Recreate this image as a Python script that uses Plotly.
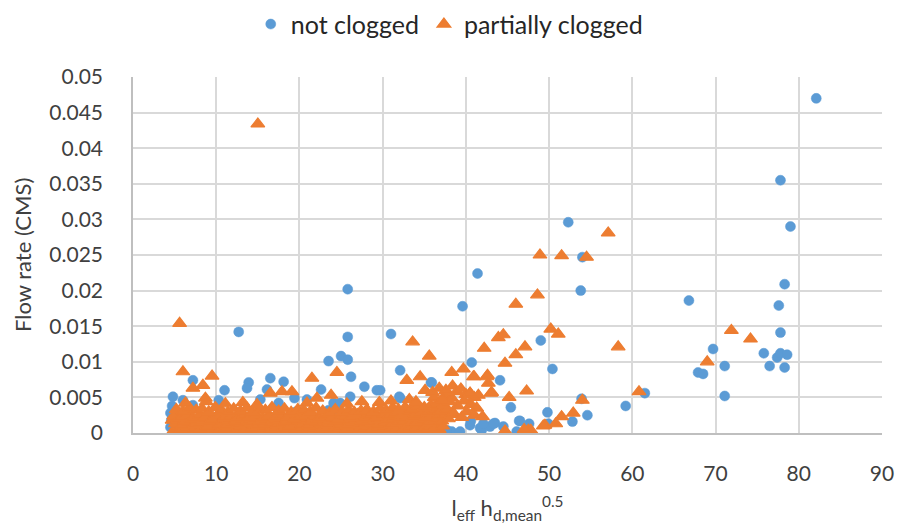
import plotly.graph_objects as go

# ---------------- data ----------------
# not clogged (blue circles)
nc_x = [82.1, 77.8, 79.0, 78.3, 77.6, 77.8, 75.8, 77.4, 77.8, 78.6, 76.5, 78.3,
        66.8, 69.7, 71.1, 67.9, 68.5, 71.1, 61.5, 59.2,
        52.3, 54.0, 41.4, 53.8, 39.6, 31.0, 49.0, 50.4, 32.1, 40.7, 35.8, 44.1,
        53.9, 54.6, 52.8, 49.8, 45.4, 46.4, 47.6, 49.9,
        40.6, 41.7, 42.9, 43.5, 44.5, 38.3, 39.3, 46.1, 40.5, 41.9, 42.1, 43.3, 46.5, 37.7,
        12.7, 25.8, 25.8, 23.5, 25.0, 25.8, 26.2, 7.2, 4.8, 6.0, 11.0, 10.3, 13.9, 13.7,
        16.5, 18.1, 16.1, 22.6, 20.9, 27.8, 29.3, 26.1, 15.3, 19.4, 32.0, 29.7,
        7.2, 17.5, 19.6, 24.1, 24.9, 32.1, 35.9, 23.5, 24.5,
        4.5, 4.6, 4.5, 4.7, 6.0, 10.0, 15.0, 20.0, 25.0, 30.0, 35.0]
nc_y = [0.0470, 0.0355, 0.0290, 0.0209, 0.0179, 0.0141, 0.0112, 0.0106, 0.0112, 0.0110, 0.0094, 0.0092,
        0.0186, 0.0118, 0.0094, 0.0085, 0.0083, 0.0052, 0.0056, 0.0038,
        0.0296, 0.0247, 0.0224, 0.0200, 0.0178, 0.0139, 0.0130, 0.0090, 0.0088, 0.0099, 0.0071, 0.0074,
        0.0048, 0.0025, 0.0016, 0.0029, 0.0036, 0.0017, 0.0013, 0.0013,
        0.0017, 0.0007, 0.0009, 0.0014, 0.0009, 0.0002, 0.0002, 0.0002, 0.0011, 0.0004, 0.0013, 0.0013, 0.0017, 0.0004,
        0.0142, 0.0202, 0.0135, 0.0101, 0.0108, 0.0103, 0.0079, 0.0074, 0.0051, 0.0046, 0.0060, 0.0046, 0.0071, 0.0063,
        0.0077, 0.0072, 0.0061, 0.0061, 0.0047, 0.0065, 0.0060, 0.0051, 0.0047, 0.0049, 0.0051, 0.0060,
        0.0039, 0.0042, 0.0030, 0.0042, 0.0042, 0.0049, 0.0071, 0.0032, 0.0032,
        0.0008, 0.0018, 0.0028, 0.0038, 0.0010, 0.0020, 0.0015, 0.0010, 0.0020, 0.0015, 0.0010]

# partially clogged (orange triangles) - scattered points
pc_x_outer = [15.0, 5.6, 6.0, 9.5, 7.2, 8.4, 8.7, 21.5, 24.5, 22.1, 23.8, 16.5, 17.9, 19.1, 27.5,
              33.6, 35.6, 32.9, 34.5, 38.3, 39.7, 40.9, 42.6, 42.2, 43.9, 44.5, 46.0, 48.6,
              48.9, 51.5, 54.5, 57.1, 50.2, 51.1, 47.1, 46.0, 44.7,
              41.0, 42.5, 42.7, 43.1, 41.5, 40.5, 47.3, 43.0, 45.2,
              54.0, 52.9, 51.5, 50.8, 49.5, 49.3, 47.5, 47.8, 44.7, 47.0, 42.0,
              58.3, 60.8, 69.0, 71.9, 74.2]
pc_y_outer = [0.0434, 0.0154, 0.0086, 0.0080, 0.0063, 0.0067, 0.0049, 0.0077, 0.0085, 0.0049, 0.0053,
              0.0056, 0.0058, 0.0058, 0.0044,
              0.0128, 0.0108, 0.0074, 0.0079, 0.0085, 0.0090, 0.0079, 0.0081, 0.0119, 0.0134, 0.0138, 0.0181, 0.0194,
              0.0250, 0.0249, 0.0247, 0.0281, 0.0146, 0.0139, 0.0121, 0.0110, 0.0098,
              0.0079, 0.0079, 0.0070, 0.0057, 0.0053, 0.0056, 0.0059, 0.0056, 0.0050,
              0.0046, 0.0028, 0.0023, 0.0013, 0.0011, 0.0010, 0.0004, 0.0004, 0.0003, 0.0005, 0.0023,
              0.0121, 0.0058, 0.0100, 0.0144, 0.0132]

# partially clogged - dense low band
pc_x_row1 = [4.8, 5.5, 6.3, 7.0, 7.8, 8.5, 9.3, 10.1, 10.8, 11.6, 12.3, 13.1, 13.9, 14.6, 15.4, 16.2,
             16.9, 17.7, 18.4, 19.2, 20.0, 20.7, 21.5, 22.3, 23.0, 23.8, 24.5, 25.3, 26.1, 26.8,
             27.6, 28.4, 29.1, 29.9, 30.6, 31.4, 32.2, 32.9, 33.7, 34.5, 35.2, 36.0, 36.8]
pc_y_row1 = [0.0002, 0.0004, 0.0001, 0.0003, 0.0005, 0.0002, 0.0001, 0.0004, 0.0003, 0.0000, 0.0002,
             0.0004, 0.0001, 0.0003, 0.0002, 0.0005, 0.0001, 0.0003, 0.0002, 0.0004, 0.0001, 0.0003,
             0.0002, 0.0000, 0.0004, 0.0002, 0.0003, 0.0001, 0.0005, 0.0002, 0.0003, 0.0001, 0.0004,
             0.0002, 0.0003, 0.0001, 0.0004, 0.0002, 0.0005, 0.0003, 0.0004, 0.0002, 0.0005]
pc_x_row1b = [5.2, 5.9, 6.6, 7.4, 8.1, 8.9, 9.7, 10.5, 11.2, 12.0, 12.7, 13.5, 14.3, 15.0, 15.8, 16.6,
              17.3, 18.1, 18.8, 19.6, 20.4, 21.1, 21.9, 22.7, 23.4, 24.2, 24.9, 25.7, 26.5, 27.2,
              28.0, 28.8, 29.5, 30.3, 31.0, 31.8, 32.6, 33.3, 34.1, 34.9, 35.6, 36.4, 37.2]
pc_y_row1b = [0.0008, 0.0006, 0.0009, 0.0007, 0.0006, 0.0009, 0.0008, 0.0006, 0.0007, 0.0009, 0.0008,
              0.0006, 0.0007, 0.0009, 0.0008, 0.0006, 0.0009, 0.0007, 0.0008, 0.0006, 0.0009, 0.0007,
              0.0008, 0.0006, 0.0009, 0.0007, 0.0008, 0.0006, 0.0009, 0.0007, 0.0008, 0.0006, 0.0009,
              0.0008, 0.0007, 0.0009, 0.0006, 0.0008, 0.0009, 0.0007, 0.0008, 0.0009, 0.0010]
pc_x_row2 = [5.1, 5.9, 6.7, 7.4, 8.2, 8.9, 9.7, 10.4, 11.2, 12.0, 12.7, 13.5, 14.2, 15.0, 15.8, 16.5,
             17.3, 18.1, 18.8, 19.6, 20.3, 21.1, 21.9, 22.6, 23.4, 24.2, 24.9, 25.7, 26.4, 27.2,
             28.0, 28.7, 29.5, 30.3, 31.0, 31.8, 32.5, 33.3, 34.1, 34.8, 35.6, 36.4, 37.1, 37.9]
pc_y_row2 = [0.0013, 0.0011, 0.0016, 0.0012, 0.0014, 0.0010, 0.0015, 0.0013, 0.0011, 0.0016, 0.0012,
             0.0014, 0.0015, 0.0011, 0.0013, 0.0016, 0.0012, 0.0014, 0.0010, 0.0015, 0.0013, 0.0011,
             0.0016, 0.0014, 0.0012, 0.0015, 0.0013, 0.0011, 0.0016, 0.0012, 0.0014, 0.0015, 0.0013,
             0.0016, 0.0012, 0.0015, 0.0017, 0.0014, 0.0016, 0.0018, 0.0015, 0.0019, 0.0017, 0.0020]
pc_x_row2b = [4.7, 5.4, 6.2, 7.0, 7.7, 8.5, 9.3, 10.0, 10.8, 11.5, 12.3, 13.1, 13.8, 14.6, 15.3, 16.1,
              16.9, 17.6, 18.4, 19.2, 19.9, 20.7, 21.4, 22.2, 23.0, 23.7, 24.5, 25.3, 26.0, 26.8,
              27.5, 28.3, 29.1, 29.8, 30.6, 31.4, 32.1, 32.9, 33.6, 34.4, 35.2, 35.9, 36.7, 37.5, 38.2]
pc_y_row2b = [0.0018, 0.0019, 0.0017, 0.0020, 0.0018, 0.0019, 0.0017, 0.0020, 0.0018, 0.0019, 0.0017,
              0.0020, 0.0018, 0.0019, 0.0017, 0.0020, 0.0018, 0.0019, 0.0017, 0.0020, 0.0018, 0.0019,
              0.0017, 0.0020, 0.0018, 0.0019, 0.0017, 0.0020, 0.0018, 0.0019, 0.0017, 0.0020, 0.0019,
              0.0021, 0.0020, 0.0022, 0.0021, 0.0023, 0.0022, 0.0024, 0.0023, 0.0026, 0.0025, 0.0027, 0.0026]
pc_x_row3 = [4.9, 5.7, 6.5, 7.2, 8.0, 8.7, 9.5, 10.2, 11.0, 11.8, 12.5, 13.3, 14.0, 14.8, 15.6, 16.3,
             17.1, 17.9, 18.6, 19.4, 20.1, 20.9, 21.7, 22.4, 23.2, 24.0, 24.7, 25.5, 26.2, 27.0,
             27.8, 28.5, 29.3, 30.1, 30.8, 31.6, 32.3, 33.1, 33.9, 34.6, 35.4, 36.2, 36.9, 37.7]
pc_y_row3 = [0.0024, 0.0022, 0.0026, 0.0021, 0.0025, 0.0023, 0.0020, 0.0026, 0.0022, 0.0024, 0.0021,
             0.0025, 0.0023, 0.0026, 0.0021, 0.0024, 0.0022, 0.0025, 0.0023, 0.0020, 0.0024, 0.0026,
             0.0022, 0.0021, 0.0025, 0.0023, 0.0020, 0.0024, 0.0022, 0.0026, 0.0021, 0.0025, 0.0023,
             0.0027, 0.0025, 0.0028, 0.0026, 0.0029, 0.0027, 0.0030, 0.0029, 0.0032, 0.0031, 0.0034]
pc_x_row4 = [5.2, 6.0, 6.8, 7.6, 8.3, 9.1, 9.9, 10.6, 11.4, 12.1, 12.9, 13.7, 14.4, 15.2, 15.9, 16.7,
             17.5, 18.2, 19.0, 19.8, 20.5, 21.3, 22.0, 22.8, 23.6, 24.3, 25.1, 25.9, 26.6, 27.4,
             28.1, 28.9, 29.7, 30.4, 31.2, 31.9, 32.7, 33.5, 34.2, 35.0, 35.8, 36.5, 37.3]
pc_y_row4 = [0.0033, 0.0031, 0.0035, 0.0032, 0.0034, 0.0030, 0.0036, 0.0032, 0.0029, 0.0034, 0.0031,
             0.0035, 0.0030, 0.0033, 0.0032, 0.0036, 0.0031, 0.0034, 0.0029, 0.0033, 0.0032, 0.0030,
             0.0035, 0.0031, 0.0028, 0.0033, 0.0030, 0.0032, 0.0029, 0.0031, 0.0033, 0.0030, 0.0034,
             0.0032, 0.0035, 0.0033, 0.0036, 0.0034, 0.0038, 0.0036, 0.0039, 0.0041, 0.0040]
pc_x_peaks = [6.3, 8.8, 11.1, 13.2, 14.9, 20.9, 25.7, 29.6, 31.0, 33.2, 34.0, 36.2, 37.5, 38.3,
              35.1, 36.0, 36.8, 37.6, 38.4, 38.9, 39.4, 40.0, 40.5, 41.0, 39.8, 40.6, 41.3, 39.0,
              40.1, 41.0, 38.5, 39.5, 38.0, 37.2]
pc_y_peaks = [0.0042, 0.0044, 0.0041, 0.0043, 0.0040, 0.0042, 0.0041, 0.0043, 0.0045, 0.0047, 0.0044,
              0.0050, 0.0053, 0.0049,
              0.0060, 0.0057, 0.0063, 0.0060, 0.0066, 0.0058, 0.0062, 0.0054, 0.0056, 0.0050, 0.0045,
              0.0040, 0.0035, 0.0038, 0.0030, 0.0025, 0.0028, 0.0022, 0.0044, 0.0047]

y_tick_vals = [0, 0.005, 0.01, 0.015, 0.02, 0.025, 0.03, 0.035, 0.04, 0.045, 0.05]
y_tick_text = ["0", "0.005", "0.01", "0.015", "0.02", "0.025", "0.03", "0.035", "0.04", "0.045", "0.05"]
x_tick_vals = [0, 10, 20, 30, 40, 50, 60, 70, 80, 90]
y_title = "Flow rate (CMS)"
x_title = "l<sub>eff</sub> h<sub>d,mean</sub><sup>0.5</sup>"

pc_x = (pc_x_row1 + pc_x_row1b + pc_x_row2 + pc_x_row2b + pc_x_row3 + pc_x_row4
        + pc_x_peaks + pc_x_outer)
pc_y = (pc_y_row1 + pc_y_row1b + pc_y_row2 + pc_y_row2b + pc_y_row3 + pc_y_row4
        + pc_y_peaks + pc_y_outer)

BLUE = "#5B9BD5"
ORANGE = "#ED7D31"
FONT = "Lato, 'Open Sans', sans-serif"

fig = go.Figure()
fig.add_trace(go.Scatter(
    x=nc_x, y=nc_y, mode="markers", name="not clogged",
    marker=dict(symbol="circle", size=10, color=BLUE, line=dict(width=0.5, color=BLUE)),
))
fig.add_trace(go.Scatter(
    x=pc_x, y=pc_y, mode="markers", name="partially clogged",
    marker=dict(symbol="triangle-up", size=12, color=ORANGE, line=dict(width=1.2, color=ORANGE)),
))

# y-axis title as a fixed-position rotated annotation (stable placement)
fig.add_annotation(text=y_title, textangle=-90, xref="paper", yref="paper",
                   x=0, y=0.5, xanchor="center", yanchor="middle", xshift=-111,
                   showarrow=False, font=dict(size=22, color="#404040", family=FONT))

# the page body has an 8px margin, so the figure is sized/offset to compensate
fig.update_layout(
    width=895, height=521,
    margin=dict(l=125, r=21, t=69, b=96, autoexpand=False),
    paper_bgcolor="white", plot_bgcolor="white",
    font=dict(family=FONT, size=20, color="#404040"),
    showlegend=True,
    legend=dict(orientation="h", x=0.493, xanchor="center", xref="container",
                y=1.148, yanchor="middle", yref="paper",
                font=dict(size=25, color="#262626"), itemwidth=30,
                tracegroupgap=0, bgcolor="rgba(0,0,0,0)"),
    xaxis=dict(range=[0, 90], tickvals=x_tick_vals, showgrid=True, gridcolor="#D9D9D9", gridwidth=1.5,
               zeroline=False, showline=True, linecolor="#BFBFBF", linewidth=1.5, automargin=False,
               ticks="", tickfont=dict(size=21, color="#404040"), ticklabelstandoff=21,
               title=dict(text=x_title, font=dict(size=22, color="#404040"), standoff=17)),
    yaxis=dict(range=[0, 0.05], tickvals=y_tick_vals, ticktext=y_tick_text, showgrid=True,
               gridcolor="#D9D9D9", gridwidth=1.5, zeroline=False, showline=True, automargin=False,
               linecolor="#BFBFBF", linewidth=1.5, ticks="",
               tickfont=dict(size=21, color="#404040"), ticklabelstandoff=24),
)

fig.write_html("out.html")
